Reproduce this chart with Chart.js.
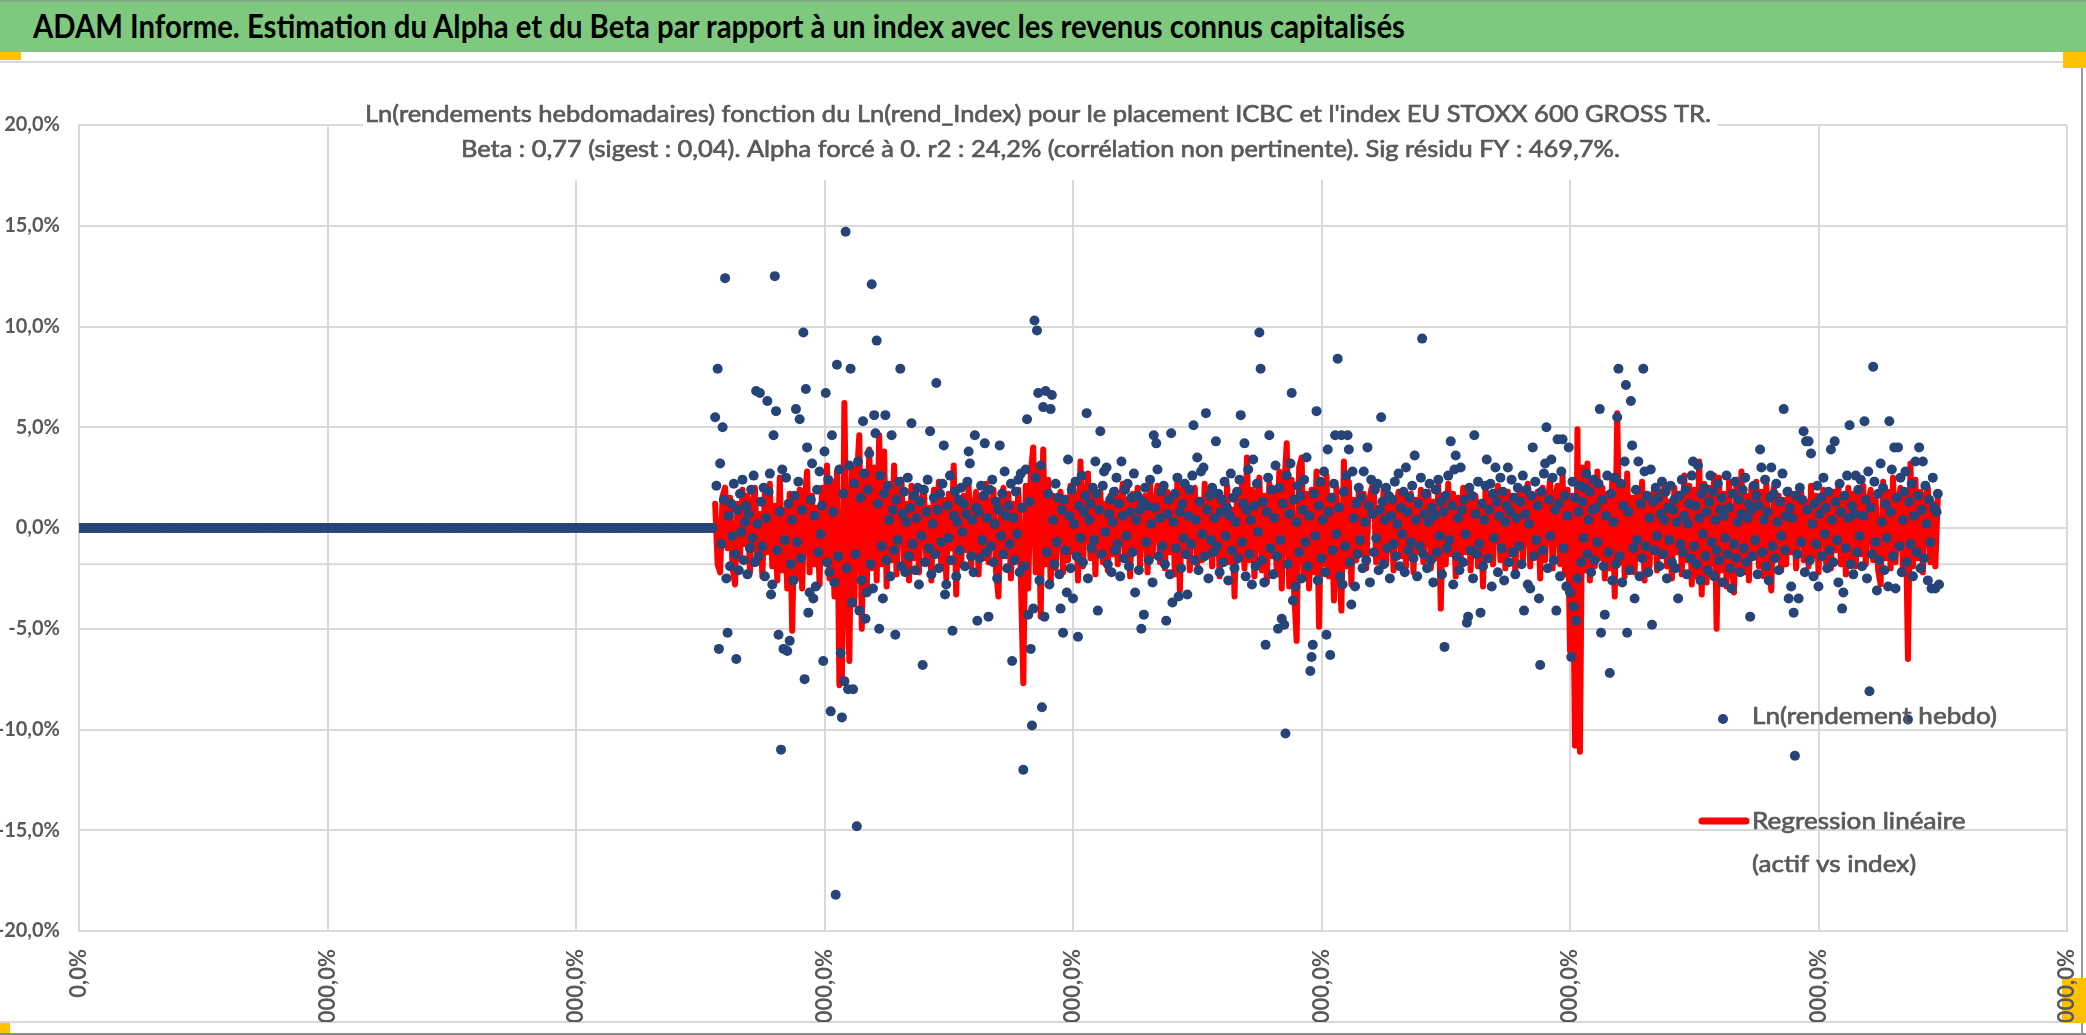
<!DOCTYPE html>
<html lang="fr">
<head>
<meta charset="utf-8">
<title>ADAM Informe - ICBC</title>
<script src="https://cdn.jsdelivr.net/npm/chart.js@4.4.1/dist/chart.umd.min.js"></script>
<style>
  html, body { margin: 0; padding: 0; background: #fff; }
  body { width: 2086px; height: 1035px; position: relative; overflow: hidden; font-family: Lato, "Liberation Sans", sans-serif; }
  .band { position: absolute; left: 0; top: 0; width: 2086px; height: 52px; background: #7fc97f; border-top: 2px solid #86a886; box-sizing: border-box; }
  .band span { position: absolute; left: 33px; top: 8px; font-weight: 700; font-size: 32px; line-height: 32px; color: #000; white-space: nowrap; transform-origin: 0 0; }
  .rule { position: absolute; left: 0; width: 2081px; height: 2px; background: #d9d9d9; }
  .mark { position: absolute; background: #ffc000; }
  .frame-r { position: absolute; left: 2081px; top: 52px; width: 2px; height: 983px; background: #9a9a9a; }
  .frame-b { position: absolute; left: 0; top: 1033px; width: 2086px; height: 2px; background: #8c8c8c; }
  #chartBox { position: absolute; left: 0; top: 62px; width: 2080px; height: 960px; }
</style>
</head>
<body>
<div class="band"><span id="bandTitle"></span></div>
<div class="rule" style="top:61px"></div>
<div class="rule" style="top:1021px"></div>
<div class="frame-r"></div>
<div class="frame-b"></div>
<div class="mark" style="left:0;top:52px;width:21px;height:8px"></div>
<div class="mark" style="left:2063px;top:52px;width:23px;height:16px"></div>
<div class="mark" style="left:0;top:1023px;width:10px;height:10px"></div>
<div class="mark" style="left:2062px;top:978px;width:24px;height:45px"></div>
<div id="chartBox"><canvas id="chart"></canvas></div>
<script>
const pageTitle = 'ADAM Informe. Estimation du Alpha et du Beta par rapport à un index avec les revenus connus capitalisés';
const chartTitle = [
    "Ln(rendements hebdomadaires) fonction du Ln(rend_Index) pour le placement ICBC et l'index EU STOXX 600 GROSS TR.",
    'Beta : 0,77 (sigest : 0,04). Alpha forcé à 0. r2 : 24,2% (corrélation non pertinente). Sig résidu FY : 469,7%.'
];
const hebdoName = 'Ln(rendement hebdo)';
const regName = ['Regression linéaire', '(actif vs index)'];

// axis ranges (x = week number, y = percent)
const xRange = [0, 1600];
const xStep = 200;
const yRange = [-20, 20];
const yStep = 5;
const crossValue = -1.8;   // horizontal axis line crosses here

// weeks 0..510, every 2 weeks: no quotation yet, ln return = 0
const leadStep = 2;
const leadReturns = [
    0,0,0,0,0,0,0,0,0,0,0,0,0,0,0,0,0,0,0,0,0,0,0,0,0,0,0,0,0,0,0,0,
    0,0,0,0,0,0,0,0,0,0,0,0,0,0,0,0,0,0,0,0,0,0,0,0,0,0,0,0,0,0,0,0,
    0,0,0,0,0,0,0,0,0,0,0,0,0,0,0,0,0,0,0,0,0,0,0,0,0,0,0,0,0,0,0,0,
    0,0,0,0,0,0,0,0,0,0,0,0,0,0,0,0,0,0,0,0,0,0,0,0,0,0,0,0,0,0,0,0,
    0,0,0,0,0,0,0,0,0,0,0,0,0,0,0,0,0,0,0,0,0,0,0,0,0,0,0,0,0,0,0,0,
    0,0,0,0,0,0,0,0,0,0,0,0,0,0,0,0,0,0,0,0,0,0,0,0,0,0,0,0,0,0,0,0,
    0,0,0,0,0,0,0,0,0,0,0,0,0,0,0,0,0,0,0,0,0,0,0,0,0,0,0,0,0,0,0,0,
    0,0,0,0,0,0,0,0,0,0,0,0,0,0,0,0,0,0,0,0,0,0,0,0,0,0,0,0,0,0,0,0
];

// Ln(rendement hebdo) in %, one value per week from week 512
const firstWeek = 512;
const hebdoStep = 1;
const hebdoReturns = [
    5.5,2.1,7.9,-6.0,3.2,-0.8,5.0,1.4,12.4,-2.5,-5.2,0.6,-1.9,1.2,-0.4,2.2,-1.3,-6.5,0.9,-2.1,1.7,-0.2,2.4,-1.6,0.3,1.1,-2.3,0.7,-1.0,1.9,-0.5,2.6,-1.7,6.8,0.2,-1.4,6.7,1.3,-0.9,2.0,
    -2.4,0.5,6.3,1.8,2.7,-3.3,-2.8,4.6,12.5,5.8,-1.1,-5.3,0.8,-11.0,2.9,-6.0,-0.6,2.5,-6.1,1.2,-5.6,-1.8,0.4,-2.6,1.6,5.9,-0.7,2.3,5.4,-1.5,0.9,9.7,-7.5,6.9,4.0,-4.2,-3.2,1.4,3.2,-3.5,
    0.6,-2.9,1.9,-1.2,2.8,-0.3,1.1,-6.6,3.8,6.7,-1.7,2.4,-2.2,-9.1,4.6,0.8,-2.7,-18.2,8.1,-1.4,2.9,-6.2,-9.4,1.7,-7.6,14.7,-2.0,-8.0,3.1,7.9,-3.7,-8.0,2.2,-1.3,-14.8,3.3,-4.1,1.5,-2.6,5.3,
    2.7,-4.5,-3.2,1.9,3.7,-1.8,12.1,-3.0,5.6,4.7,9.3,1.2,-5.0,2.6,-0.9,-3.5,1.7,5.6,-1.6,2.1,0.4,-2.4,4.6,0.9,-1.1,-5.3,1.4,-0.6,2.3,7.9,-1.9,0.7,1.8,-2.2,0.3,2.5,-1.4,1.0,5.2,-0.8,
    1.6,-2.1,0.5,2.0,-2.8,1.3,-0.4,-6.8,1.9,-1.7,0.8,2.4,-1.0,4.8,-2.3,0.2,1.5,-1.3,7.2,0.9,-2.0,1.7,-0.7,2.2,4.1,-3.3,-2.8,1.1,-0.5,2.6,-1.6,-5.1,0.6,1.8,-2.4,0.3,1.4,-1.1,2.0,-0.2,
    1.2,-1.9,0.7,2.3,3.8,3.2,-1.4,0.4,-2.2,4.6,1.0,-4.6,0.8,-1.5,2.1,-0.6,1.6,4.2,-1.2,0.5,-4.4,1.9,-0.9,2.4,-1.7,0.2,1.3,-2.5,0.9,4.1,-0.4,1.7,-1.3,2.8,0.6,-2.0,1.1,-0.8,2.2,-6.6,
    0.5,-1.6,1.8,-0.3,2.4,-2.2,2.7,1.0,-12.0,-1.9,2.9,5.4,-4.3,1.3,-6.0,-9.8,-4.0,10.3,2.5,9.8,6.7,-2.6,3.1,-8.9,6.0,-4.4,6.8,-1.2,1.7,-2.8,5.9,6.6,0.4,-1.8,2.2,-0.7,1.5,-2.3,-4.0,0.9,
    -5.2,1.4,-1.1,-3.2,3.4,0.6,-2.0,1.9,-3.5,0.2,2.3,-1.4,-5.4,1.1,-0.5,2.6,-1.7,0.8,1.6,5.7,-2.5,0.4,1.2,-1.0,2.0,-0.6,3.3,1.7,-4.1,0.9,4.8,-1.3,2.1,2.8,-0.2,3.0,-1.8,0.7,1.4,-2.2,
    0.3,1.8,-1.1,2.5,-0.8,1.2,-2.4,3.3,0.6,-1.5,1.9,-0.4,2.2,-1.9,0.8,1.5,-1.2,2.7,-3.2,0.4,1.6,-2.1,0.9,-5.0,1.3,-4.3,2.0,-0.7,1.1,-1.6,2.4,0.2,-2.7,4.6,1.0,4.2,2.9,-1.4,0.5,1.8,
    -0.9,2.1,-1.8,-4.6,0.7,1.4,-2.3,4.7,-3.7,0.3,1.7,-1.0,2.5,-3.4,0.8,-2.0,1.2,-0.5,2.2,-1.3,-3.3,0.6,1.9,-0.8,2.6,5.1,-1.6,0.4,3.5,-2.1,1.3,2.8,-0.3,3.0,-1.4,5.7,0.9,-2.5,1.6,-0.6,
    2.0,-1.2,0.5,4.3,-0.9,1.7,-2.2,0.8,1.4,-1.7,2.3,-0.4,1.0,-2.6,0.6,2.7,-1.1,1.5,-2.0,0.3,1.8,-1.5,2.4,5.6,-0.7,1.2,4.2,-2.4,0.9,2.9,-1.3,0.4,-2.8,3.4,1.1,-1.9,2.2,-0.2,9.7,7.9,
    -1.6,1.3,-2.7,-5.8,0.8,2.5,4.6,-1.0,1.9,-2.3,0.5,3.1,-1.4,-5.0,2.0,-0.6,-4.5,1.2,-4.8,-10.2,2.6,-1.8,0.7,3.2,6.7,-3.6,1.4,-2.9,0.3,2.1,-1.2,1.6,-2.5,0.9,2.4,-0.7,3.5,-1.9,0.6,-7.1,
    -6.4,-5.8,1.7,-0.4,5.8,-2.6,1.1,2.3,-1.5,0.4,2.8,-2.2,-5.3,3.9,0.8,-6.3,1.5,-1.1,2.2,4.6,-0.3,8.4,1.0,-2.4,4.6,-2.8,1.8,-0.9,2.6,4.6,3.9,-1.7,-3.8,2.8,0.5,-2.9,1.2,-1.3,2.0,-0.6,
    1.5,-2.0,2.8,0.3,-1.6,4.0,1.1,-2.7,2.4,0.7,-1.2,1.9,-0.5,2.2,-2.1,0.9,5.5,1.3,-1.8,0.4,2.0,-1.0,1.6,-2.5,0.6,1.4,-0.8,2.3,-1.4,0.2,2.7,-1.9,1.0,-0.3,1.8,-2.2,3.0,0.8,-1.1,1.5,
    -0.7,2.1,-1.5,3.6,0.4,-2.4,1.2,-0.9,2.5,9.4,-1.3,0.7,1.7,-2.0,0.3,2.2,-1.6,1.0,-2.7,0.6,1.9,-1.2,2.4,-0.4,1.3,-2.3,0.8,-5.9,1.6,-1.0,2.6,-0.6,4.3,1.1,-2.8,2.9,3.6,-1.4,0.5,-2.1,
    3.0,0.9,-1.7,1.4,-0.3,-4.7,-4.4,2.0,-1.1,1.6,-2.5,4.6,0.7,-1.3,2.3,-0.8,-4.2,1.2,-1.9,0.4,2.1,3.4,-1.5,0.9,2.2,-2.9,1.7,-0.5,3.0,1.3,-2.2,0.6,2.5,-1.0,1.8,-2.6,0.3,1.1,3.0,-1.7,
    0.8,2.4,-1.2,1.5,-2.3,0.5,2.0,-0.9,1.3,-1.8,2.6,-4.1,0.7,1.9,-2.8,0.2,-3.0,1.6,4.0,-1.4,2.3,-0.6,1.1,-3.5,-6.8,1.8,-1.1,2.7,3.2,5.0,-2.0,1.4,-0.4,3.4,2.5,-1.6,0.9,-4.1,4.4,1.2,
    -2.4,2.8,4.4,-1.0,1.6,-2.9,0.6,4.0,-3.2,-6.4,2.3,-3.9,1.5,-4.6,-2.5,0.8,2.1,-1.7,1.3,-0.5,2.0,2.7,-1.3,0.4,1.8,-2.2,0.9,2.4,-1.6,1.0,-0.7,2.2,5.9,-5.2,1.4,-1.9,-4.3,0.6,2.6,-1.2,
    -7.2,1.7,-2.6,0.3,2.5,-1.8,5.5,7.9,-1.4,2.2,-2.7,1.1,3.3,7.1,-5.2,0.8,-2.1,6.3,4.1,-1.0,-3.5,1.9,-0.6,3.3,-2.4,1.2,-1.5,7.9,2.8,-0.9,1.6,-2.2,0.5,2.9,-4.8,1.3,-1.1,2.0,-0.4,1.5,
    -1.9,0.7,2.3,-1.3,0.4,1.8,-2.5,1.0,-0.6,2.1,-1.7,0.9,1.4,-2.0,0.3,-3.5,1.6,-0.8,2.4,-1.2,0.6,1.9,-2.3,0.2,1.2,-1.5,2.6,3.3,-0.9,1.1,-1.8,3.1,0.5,-2.6,1.7,-0.3,2.0,-1.4,0.8,-2.1,
    1.3,2.6,-0.7,1.8,-2.4,0.4,-1.1,2.2,-1.6,0.9,1.5,-2.7,0.6,-0.5,2.6,-1.3,1.0,-2.0,-3.0,1.7,-0.8,2.3,-1.5,0.3,1.4,-2.2,0.7,1.9,-1.0,2.5,-1.7,0.5,1.2,-4.4,0.9,-1.4,2.1,-0.6,1.6,-2.3,
    1.1,3.9,3.0,-1.2,0.4,2.4,-1.9,0.8,-2.6,1.5,3.0,-0.9,1.7,-1.5,2.2,0.3,-2.1,1.3,-0.4,2.7,5.9,-1.1,0.6,1.8,-3.5,1.0,-2.9,0.5,-4.2,-11.3,1.6,-1.3,-3.5,2.0,-0.7,1.4,4.8,-2.2,4.3,0.9,
    4.3,-1.6,3.7,0.2,-2.4,1.2,-0.8,2.1,-2.9,0.7,1.5,-1.4,2.5,-0.3,1.0,-2.0,1.8,-1.1,3.9,0.4,-1.7,4.3,1.3,-0.6,-2.7,2.2,0.8,-4.0,-3.2,1.6,-1.0,2.6,0.5,5.1,-1.8,1.1,-2.3,0.7,2.6,-1.2,
    1.9,-0.4,2.4,-1.9,0.6,5.3,1.4,-2.5,2.8,-8.1,1.0,-1.3,8.0,2.3,-0.7,-3.1,1.7,-1.6,3.2,0.3,2.0,-2.1,1.2,-0.5,-2.9,5.3,0.8,2.9,-1.4,4.0,-3.0,1.5,4.0,-0.9,2.5,-2.2,0.4,1.8,2.8,-1.7,
    -9.5,1.3,-0.8,2.2,-2.4,0.6,3.3,-1.2,1.6,4.0,-2.0,0.9,3.3,-1.5,2.1,0.2,-2.6,1.4,-0.7,-3.0,2.5,1.0,-3.0,0.8,1.7,-2.8
];

// Regression linéaire (beta x ln rend index) in %, every 2 weeks from week 512
const regStep = 2;
const regReturns = [
    1.2,-1.8,-2.2,1.6,2.0,-1.0,1.5,-2.0,-2.8,1.2,-1.5,1.9,-0.8,1.6,-2.2,1.0,2.0,-1.7,0.7,-2.4,
    1.8,-1.2,2.2,-1.9,1.1,-2.6,2.5,-2.1,0.9,-3.0,1.7,-5.1,1.3,-2.5,1.9,-3.0,1.4,2.8,-2.2,1.6,
    -1.8,1.0,-2.8,2.0,-1.4,3.1,-2.5,2.3,-3.4,2.8,-7.8,-7.5,6.2,-2.4,-6.6,3.0,-3.8,2.5,4.6,-5.0,
    2.4,-3.2,3.9,-2.0,3.0,-2.6,4.6,-1.8,3.8,-2.9,2.2,-1.6,3.1,-2.3,1.5,2.4,-1.9,1.2,-2.6,2.1,
    -1.5,1.8,-2.2,1.1,2.0,-1.7,1.0,-2.6,1.9,-1.2,2.3,-2.0,1.4,-2.5,1.7,-1.0,3.1,-3.3,1.5,-1.8,
    1.6,-1.1,2.1,-1.9,0.9,1.8,-2.3,1.4,-1.5,2.2,-1.7,0.8,1.9,-2.1,-3.4,1.3,2.0,-1.4,1.7,-2.5,
    1.2,-1.6,1.9,-2.4,-7.7,2.1,-3.0,2.7,4.0,-2.2,3.0,-4.4,3.9,-1.8,2.4,-2.8,1.6,-2.0,1.3,1.8,
    -2.2,1.5,-1.6,2.1,-1.2,1.7,-2.6,3.3,-1.9,1.0,2.7,-1.5,2.0,-2.3,1.4,1.8,-1.7,1.2,-2.1,1.6,
    -1.3,1.9,-1.8,1.0,2.2,-1.6,1.4,-2.4,1.7,-0.9,2.0,-1.9,1.2,1.6,-2.2,2.3,-1.4,0.9,2.1,-1.7,
    1.5,-2.0,1.8,-1.2,1.6,-2.3,2.3,-3.1,1.9,-1.0,1.7,-2.1,1.3,2.0,-1.8,1.4,-1.6,2.2,-1.3,1.8,
    -1.9,1.2,1.7,-2.4,1.5,-1.4,2.1,-1.7,0.9,-3.4,1.8,-1.5,2.3,-2.0,3.5,-1.6,1.9,-2.4,1.3,2.5,
    -2.1,1.6,-2.7,2.2,-1.4,1.9,-2.3,2.8,-3.0,2.0,4.2,-2.9,2.4,-3.2,-5.6,3.0,3.5,-2.5,1.7,-3.0,
    1.9,-2.2,2.8,-4.9,2.1,-1.8,2.6,-2.4,1.6,-3.6,2.0,-1.5,-4.1,3.3,-1.9,2.3,-2.8,1.4,-1.6,1.8,
    -1.3,1.7,-2.0,1.2,1.9,2.3,-1.7,1.0,-1.5,2.0,-1.8,1.3,1.6,-2.1,0.9,1.8,-1.4,1.6,-1.9,1.2,
    1.7,-2.2,1.4,-1.2,1.9,-1.7,1.1,1.8,-2.0,1.3,-1.5,2.1,-4.0,1.6,-1.8,2.2,-1.3,1.7,-2.4,1.5,
    -1.6,2.0,-1.2,1.8,-2.1,1.4,1.6,-1.9,1.1,-2.9,1.9,-1.4,1.7,-1.8,1.2,2.1,-1.6,1.5,-2.0,1.8,
    -1.3,1.6,-2.2,1.4,1.9,-1.7,1.0,2.2,-1.9,1.5,-1.2,1.8,-2.5,2.0,-1.6,1.2,2.4,-2.0,1.5,2.1,
    -1.8,2.6,-2.3,1.9,-6.1,1.6,-10.8,4.9,-11.1,3.0,-2.1,3.2,-2.6,2.3,-1.9,2.8,-1.5,2.0,-2.5,1.7,
    -2.0,2.4,-3.4,5.7,-1.7,2.1,-2.4,2.7,-1.8,1.5,-2.2,1.9,-1.3,2.3,-2.6,1.6,-1.9,1.4,2.0,-2.1,
    1.8,-1.4,2.2,-1.9,1.3,-2.5,2.0,-1.2,1.7,-2.3,2.6,-1.6,2.1,-2.8,1.9,-2.4,3.3,-3.3,2.2,-2.7,
    2.0,-1.8,2.6,-5.0,2.5,-2.1,1.7,-2.9,2.3,-1.5,-3.2,2.4,-2.0,2.8,-2.2,1.6,-2.6,2.1,-1.4,2.3,
    -1.9,1.8,-2.4,2.2,-1.7,-3.1,2.0,-1.3,1.6,-2.1,1.4,-1.8,1.9,-1.2,1.7,-2.0,1.1,1.8,-1.6,1.3,
    -1.9,2.1,-1.4,1.6,-2.2,1.2,1.9,-1.7,1.5,-2.0,1.8,-1.1,2.2,-1.8,1.4,-2.3,2.0,-1.5,1.7,-1.9,
    1.6,-1.3,2.1,-1.8,1.2,1.9,-1.6,1.4,-2.1,-2.8,2.3,-1.5,1.8,-2.0,2.5,-1.7,1.3,2.0,-2.2,1.6,
    -6.5,3.2,-1.9,2.4,-1.5,1.8,-2.2,1.5,2.0,-1.7,1.2,-1.9,1.5
];

const BLUE = '#264478';
const RED = '#ff0000';
const GRID = '#d9d9d9';
const TEXT = '#595959';

function pct(v) {
    return v.toFixed(1).replace('.', ',') + '%';
}

// draws text squeezed/stretched to a given width, slightly emboldened
function fitText(c, text, x, y, width) {
    const s = width / c.measureText(text).width;
    c.save();
    c.translate(x, y);
    c.scale(s, 1);
    c.fillText(text, 0, 0);
    c.lineWidth = 0.7;
    c.strokeStyle = c.fillStyle;
    c.strokeText(text, 0, 0);
    c.restore();
}

document.addEventListener('DOMContentLoaded', function() {
    const bandTitle = document.getElementById('bandTitle');
    bandTitle.textContent = pageTitle;
    const natural = bandTitle.getBoundingClientRect().width;
    bandTitle.style.transform = 'scaleX(' + (1372 / natural) + ')';

    const hebdoPoints = leadReturns.map((v, i) => ({ x: i * leadStep, y: v }))
        .concat(hebdoReturns.map((v, i) => ({ x: firstWeek + i * hebdoStep, y: v })));
    const regPoints = regReturns.map((v, i) => ({ x: firstWeek + i * regStep, y: v }));

    const overlay = {
        id: 'overlay',
        beforeDatasetsDraw(chart) {
            const { ctx, chartArea, scales } = chart;
            const yPix = scales.y.getPixelForValue(crossValue);
            ctx.save();
            ctx.strokeStyle = GRID;
            ctx.lineWidth = 2;
            ctx.beginPath();
            ctx.moveTo(chartArea.left, yPix);
            ctx.lineTo(chartArea.right, yPix);
            ctx.stroke();
            ctx.restore();
        },
        afterDraw(chart) {
            const ctx = chart.ctx;
            ctx.save();
            // chart title on a white box over the top of the plot
            ctx.fillStyle = '#fff';
            ctx.fillRect(363, 30, 1354, 88);
            ctx.fillStyle = TEXT;
            ctx.textBaseline = 'alphabetic';
            ctx.textAlign = 'left';
            ctx.font = '24px Lato';
            fitText(ctx, chartTitle[0], 365, 60, 1346);
            fitText(ctx, chartTitle[1], 461, 95, 1159);

            // legend
            ctx.font = '24px Lato';
            const ls = 245 / ctx.measureText(hebdoName).width;
            ctx.fillStyle = BLUE;
            ctx.beginPath();
            ctx.arc(1723, 657, 5, 0, Math.PI * 2);
            ctx.fill();
            ctx.strokeStyle = RED;
            ctx.lineWidth = 7;
            ctx.lineCap = 'round';
            ctx.beginPath();
            ctx.moveTo(1702, 759);
            ctx.lineTo(1746, 759);
            ctx.stroke();
            ctx.fillStyle = TEXT;
            [[hebdoName, 662], [regName[0], 767], [regName[1], 810]].forEach(function(item) {
                const w = ctx.measureText(item[0]).width * ls;
                fitText(ctx, item[0], 1752, item[1], w);
            });
            ctx.restore();
        }
    };

    new Chart(document.getElementById('chart').getContext('2d'), {
        type: 'scatter',
        data: {
            datasets: [{
                label: hebdoName,
                data: hebdoPoints,
                backgroundColor: BLUE,
                borderColor: BLUE,
                pointRadius: 5,
                pointHoverRadius: 5,
                pointBorderWidth: 0,
                showLine: false
            }, {
                label: regName.join(' '),
                data: regPoints,
                borderColor: RED,
                backgroundColor: RED,
                borderWidth: 6,
                borderJoinStyle: 'round',
                borderCapStyle: 'round',
                pointRadius: 0,
                pointHoverRadius: 0,
                showLine: true,
                fill: false,
                tension: 0
            }]
        },
        options: {
            responsive: true,
            maintainAspectRatio: false,
            devicePixelRatio: 1,
            animation: false,
            events: [],
            layout: { padding: { top: 63, right: 13, bottom: 0, left: 0 } },
            plugins: {
                legend: { display: false },
                title: { display: false },
                tooltip: { enabled: false }
            },
            scales: {
                x: {
                    type: 'linear',
                    min: xRange[0],
                    max: xRange[1],
                    grid: { color: GRID, lineWidth: 2, drawTicks: false },
                    border: { color: GRID, width: 2 },
                    ticks: {
                        stepSize: xStep,
                        minRotation: 90,
                        maxRotation: 90,
                        padding: 18,
                        color: TEXT,
                        font: { family: 'Lato', weight: 'bold', size: 22 },
                        callback: v => pct(v * 100)
                    },
                    afterFit: s => { s.height = 91; s.paddingLeft = 0; s.paddingRight = 0; }
                },
                y: {
                    min: yRange[0],
                    max: yRange[1],
                    grid: { color: GRID, lineWidth: 2, drawTicks: false },
                    border: { color: GRID, width: 2 },
                    ticks: {
                        stepSize: yStep,
                        padding: 19,
                        color: TEXT,
                        font: { family: 'Lato', weight: 'bold', size: 20 },
                        callback: v => pct(v)
                    },
                    afterFit: s => { s.width = 79; s.paddingTop = 0; s.paddingBottom = 0; }
                }
            }
        },
        plugins: [overlay]
    });
});
</script>
</body>
</html>
